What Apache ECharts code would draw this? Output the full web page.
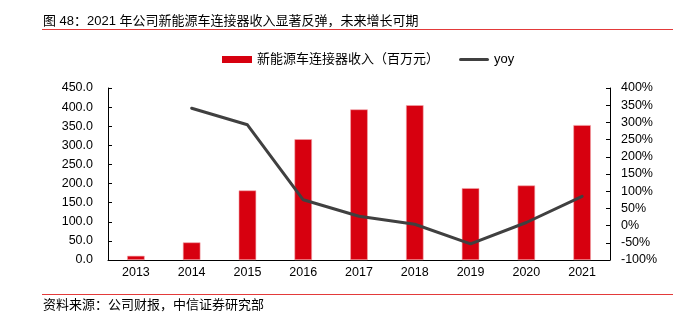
<!DOCTYPE html>
<html>
<head>
<meta charset="utf-8">
<script src="https://cdn.jsdelivr.net/npm/echarts@6/dist/echarts.min.js"></script>
<style>
  html, body { margin: 0; padding: 0; background: #fff; }
  #chart { width: 695px; height: 322px; }
</style>
</head>
<body>
<div id="chart"></div>
<script>
// Revenue of the NEV connector business and its year-over-year growth
const years = ['2013', '2014', '2015', '2016', '2017', '2018', '2019', '2020', '2021'];
const revenue = [11, 46, 182, 316, 394, 405, 188, 195, 353];      // 百万元
const yoy = [null, 341, 293, 75, 27, 4, -53, 9, 85];               // %

const titleText = '图 48：2021 年公司新能源车连接器收入显著反弹，未来增长可期';
const sourceText = '资料来源：公司财报，中信证券研究部';
const barName = '新能源车连接器收入（百万元）';
const lineName = 'yoy';

const FONT = '"Liberation Sans", "Noto Sans CJK SC", sans-serif';
const RED = '#d7000f';
const GREY = '#404040';

const chart = echarts.init(document.getElementById('chart'), null, { renderer: 'canvas' });

chart.setOption({
  animation: false,
  backgroundColor: '#fff',
  textStyle: { fontFamily: FONT, color: '#000' },
  graphic: [
    {
      type: 'text', left: 43, top: 15,
      style: { text: titleText, fontSize: 13, fontFamily: FONT, fill: '#000' }
    },
    {
      type: 'line', shape: { x1: 42, y1: 29.5, x2: 673, y2: 29.5 },
      style: { stroke: '#e33a3a', lineWidth: 1.2 }
    },
    {
      type: 'line', shape: { x1: 42, y1: 294.5, x2: 673, y2: 294.5 },
      style: { stroke: '#e33a3a', lineWidth: 1.2 }
    },
    {
      type: 'text', left: 43, top: 299,
      style: { text: sourceText, fontSize: 13, fontFamily: FONT, fill: '#000' }
    }
  ],
  legend: {
    top: 48,
    left: 217,
    itemWidth: 30,
    itemHeight: 7,
    itemGap: 20,
    textStyle: { fontSize: 13, fontFamily: FONT, color: '#000' },
    data: [
      { name: barName, icon: 'rect', itemStyle: { borderWidth: 0, color: RED } },
      { name: lineName, icon: 'path://M1.5,0H28.5A1.5,1.5,0,0,1,28.5,3H1.5A1.5,1.5,0,0,1,1.5,0Z',
        itemStyle: { color: GREY, borderWidth: 0 } }
    ]
  },
  grid: { left: 108, right: 85, top: 88, bottom: 62 },
  xAxis: {
    type: 'category',
    data: years,
    axisLine: { lineStyle: { color: '#000', width: 1 } },
    axisTick: { show: false },
    axisLabel: { fontSize: 12.5, color: '#000', margin: 6, fontFamily: FONT }
  },
  yAxis: [
    {
      type: 'value',
      min: 0, max: 450, interval: 50,
      axisLine: { show: true, lineStyle: { color: '#000', width: 1 } },
      axisTick: { show: true, inside: true, length: 4, lineStyle: { color: '#000' } },
      splitLine: { show: false },
      axisLabel: {
        fontSize: 12.5, color: '#000', margin: 15, fontFamily: FONT,
        formatter: v => v.toFixed(1)
      }
    },
    {
      type: 'value',
      min: -100, max: 400, interval: 50,
      position: 'right',
      axisLine: { show: true, lineStyle: { color: '#000', width: 1 } },
      axisTick: { show: true, inside: true, length: 4, lineStyle: { color: '#000' } },
      splitLine: { show: false },
      axisLabel: {
        fontSize: 12.5, color: '#000', margin: 11, fontFamily: FONT,
        formatter: '{value}%'
      }
    }
  ],
  series: [
    {
      name: barName,
      type: 'bar',
      data: revenue,
      barWidth: 17.5,
      itemStyle: { color: RED, borderColor: '#f2a7ad', borderWidth: 0.6 }
    },
    {
      name: lineName,
      type: 'line',
      yAxisIndex: 1,
      data: yoy,
      symbol: 'none',
      connectNulls: false,
      lineStyle: { color: GREY, width: 3, cap: 'round', join: 'round' },
      itemStyle: { color: GREY }
    }
  ]
});
</script>
</body>
</html>
